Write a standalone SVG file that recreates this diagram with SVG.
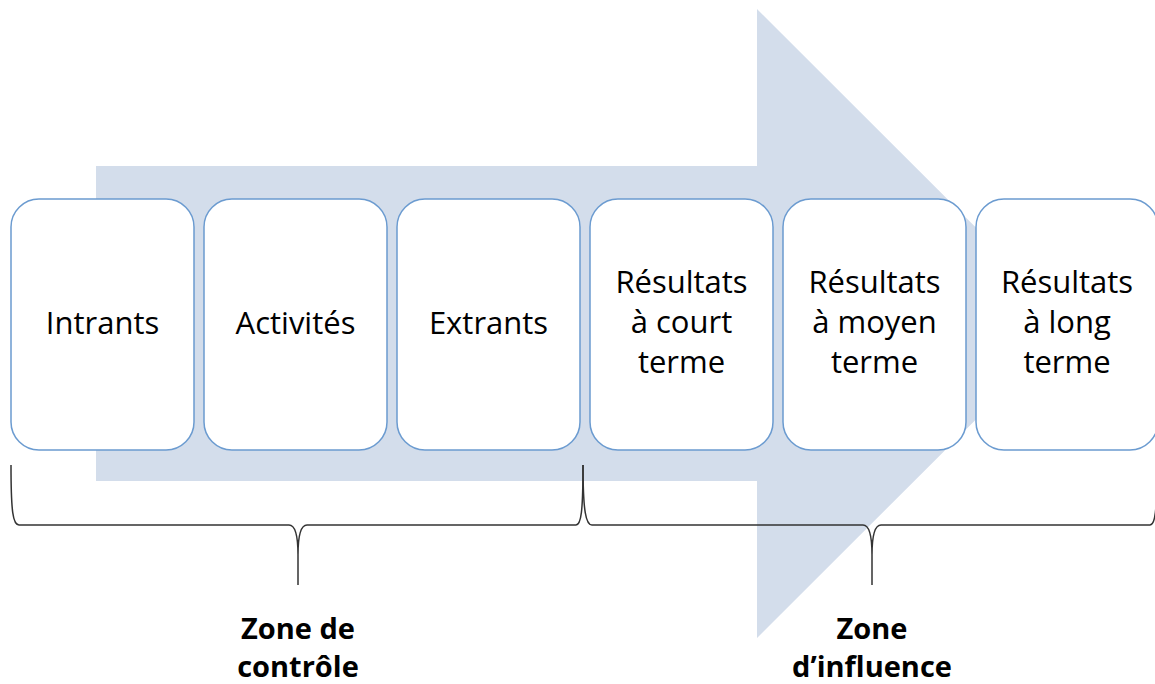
<svg xmlns="http://www.w3.org/2000/svg" width="1155" height="684" viewBox="0 0 1155 684">
<style>
.box{fill:#ffffff;stroke:#6b9bd0;stroke-width:1.5}
.t{font-family:"Open Sans","Liberation Sans",sans-serif;font-size:31px;fill:#000;text-anchor:middle}
.b{font-family:"Open Sans","Liberation Sans",sans-serif;font-size:29px;font-weight:bold;fill:#000;text-anchor:middle}
.brace{fill:none;stroke:#333;stroke-width:1.5}
</style>
<rect width="1155" height="684" fill="#ffffff"/>
<g id="arrow">
<polygon points="96,166 757,166 757,9 1072,323.5 757,638 757,481 96,481" fill="#d3ddeb"/>
</g>
<g id="n1"><rect class="box" x="11" y="199" width="183" height="251" rx="28"/><text class="t" x="102.5" y="334">Intrants</text></g>
<g id="n2"><rect class="box" x="204" y="199" width="183" height="251" rx="28"/><text class="t" x="295.5" y="334">Activités</text></g>
<g id="n3"><rect class="box" x="397" y="199" width="183" height="251" rx="28"/><text class="t" x="488.5" y="334">Extrants</text></g>
<g id="n4"><rect class="box" x="590" y="199" width="183" height="251" rx="28"/><text class="t" x="681.5" y="293">Résultats</text><text class="t" x="681.5" y="333">à court</text><text class="t" x="681.5" y="373">terme</text></g>
<g id="n5"><rect class="box" x="783" y="199" width="183" height="251" rx="28"/><text class="t" x="874.5" y="293">Résultats</text><text class="t" x="874.5" y="333">à moyen</text><text class="t" x="874.5" y="373">terme</text></g>
<g id="n6"><rect class="box" x="976" y="199" width="182" height="251" rx="28"/><text class="t" x="1067" y="293">Résultats</text><text class="t" x="1067" y="333">à long</text><text class="t" x="1067" y="373">terme</text></g>
<g id="connectors">
<path class="brace" d="M11,465 C11,512 13,525 19,525 L289,525 C295,525 298,535 298,555 L298,585 M298,555 C298,535 301,525 307,525 L576,525 C581,525 583,512 583,465"/>
<path class="brace" d="M583,465 C583,512 586,525 592,525 L863,525 C869,525 872,535 872,555 L872,585 M872,555 C872,535 875,525 881,525 L1150,525 C1155,525 1157,512 1157,465"/>
</g>
<g id="labels">
<text class="b" x="298" y="639">Zone de</text>
<text class="b" x="298" y="677">contrôle</text>
<text class="b" x="872" y="639">Zone</text>
<text class="b" x="872" y="677">d’influence</text>
</g>
</svg>
